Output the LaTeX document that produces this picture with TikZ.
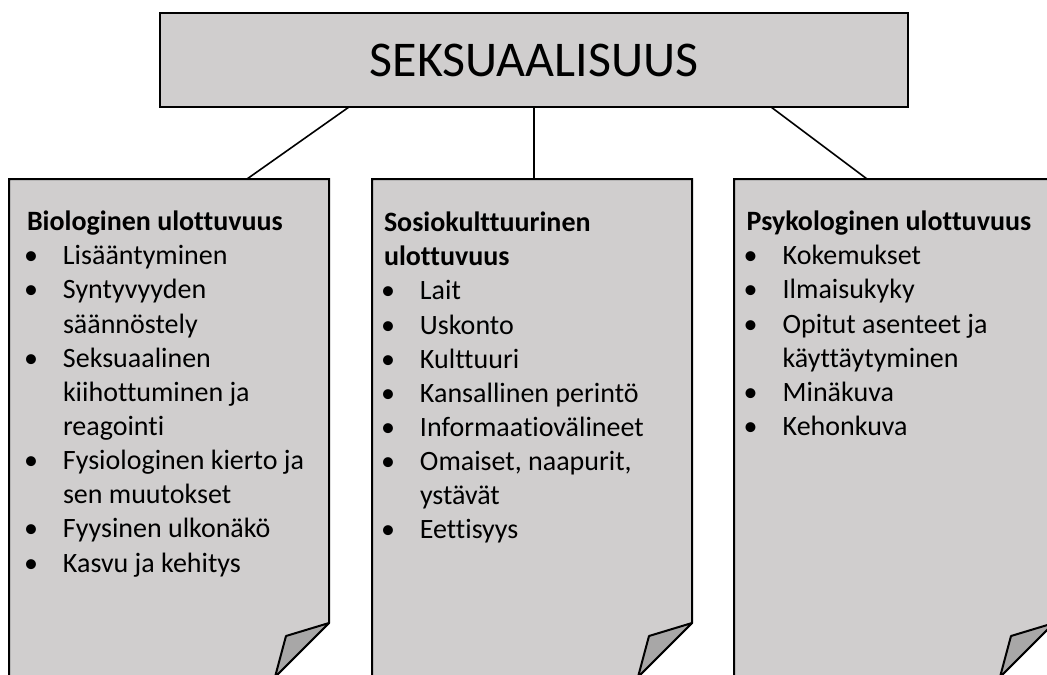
\documentclass[tikz,border=0pt]{standalone}
\usepackage{fontspec}
\setmainfont[Ligatures=NoCommon]{Carlito}
\newdimen\pxu \pxu=0.75pt
\definecolor{boxgray}{HTML}{D0CECE}
\definecolor{foldgray}{HTML}{A8A7A7}
\newcommand{\bitem}[1]{\hbox{\makebox[36\pxu][l]{\hspace*{-3\pxu}•}#1}}
\newcommand{\bcont}[1]{\hbox{\hspace*{36\pxu}#1}}
\newcommand{\btitle}[1]{\hbox{\bfseries #1}}
\tikzset{
  panel/.style={draw=black, line width=1.5pt, fill=boxgray, line join=miter},
  fold/.style={draw=black, line width=1.5pt, fill=foldgray, line join=round},
  conn/.style={draw=black, line width=1.2pt},
  listtext/.style={anchor=base west, inner sep=0pt, outer sep=0pt, font=\fontsize{21pt}{25.6pt}\selectfont},
}
\begin{document}
\begin{tikzpicture}[x=0.75pt,y=-0.75pt]
\useasboundingbox (0,0) rectangle (1047,675);
\clip (0,0) rectangle (1047,675);
\fill[white] (0,0) rectangle (1047,675);

% top box
\node[panel, minimum width=748\pxu, minimum height=94\pxu, text height=33\pxu, text depth=0pt,
      font=\fontsize{37.5pt}{44pt}\selectfont] (top) at (534,60.2) {SEKSUAALISUUS};

% panels
\draw[panel] (9,179) -- (329,179) -- (329,623) -- (274,678) -- (9,678) -- cycle;
\draw[fold] (329,623) -- (286,636) -- (275,677) -- cycle;
\draw[panel] (372,179) -- (692,179) -- (692,623) -- (637,678) -- (372,678) -- cycle;
\draw[fold] (692,623) -- (649,636) -- (638,677) -- cycle;
\draw[panel] (734,179) -- (1054,179) -- (1054,623) -- (999,678) -- (734,678) -- cycle;
\draw[fold] (1054,623) -- (1011,636) -- (1000,677) -- cycle;

% connector end points
\coordinate (t1) at (349,107);
\coordinate (t2) at (534,107);
\coordinate (t3) at (771,107);
\coordinate (p1) at (247,179);
\coordinate (p2) at (534,179);
\coordinate (p3) at (867,179);
\draw[conn] (t1) -- (p1);
\draw[conn] (t2) -- (p2);
\draw[conn] (t3) -- (p3);

% texts
\node[listtext] (bio) at (27,230.7) {\vtop{%
\btitle{Biologinen ulottuvuus}
\bitem{Lisääntyminen}
\bitem{Syntyvyyden}
\bcont{säännöstely}
\bitem{Seksuaalinen}
\bcont{kiihottuminen ja}
\bcont{reagointi}
\bitem{Fysiologinen kierto ja}
\bcont{sen muutokset}
\bitem{Fyysinen ulkonäkö}
\bitem{Kasvu ja kehitys}}};

\node[listtext] (sos) at (384,231.7) {\vtop{%
\btitle{Sosiokulttuurinen}
\btitle{ulottuvuus}
\bitem{Lait}
\bitem{Uskonto}
\bitem{Kulttuuri}
\bitem{Kansallinen perintö}
\bitem{Informaatiovälineet}
\bitem{Omaiset, naapurit,}
\bcont{ystävät}
\bitem{Eettisyys}}};

\node[listtext] (psy) at (746.7,230.7) {\vtop{%
\btitle{Psykologinen ulottuvuus}
\bitem{Kokemukset}
\bitem{Ilmaisukyky}
\bitem{Opitut asenteet ja}
\bcont{käyttäytyminen}
\bitem{Minäkuva}
\bitem{Kehonkuva}}};
\end{tikzpicture}
\end{document}
